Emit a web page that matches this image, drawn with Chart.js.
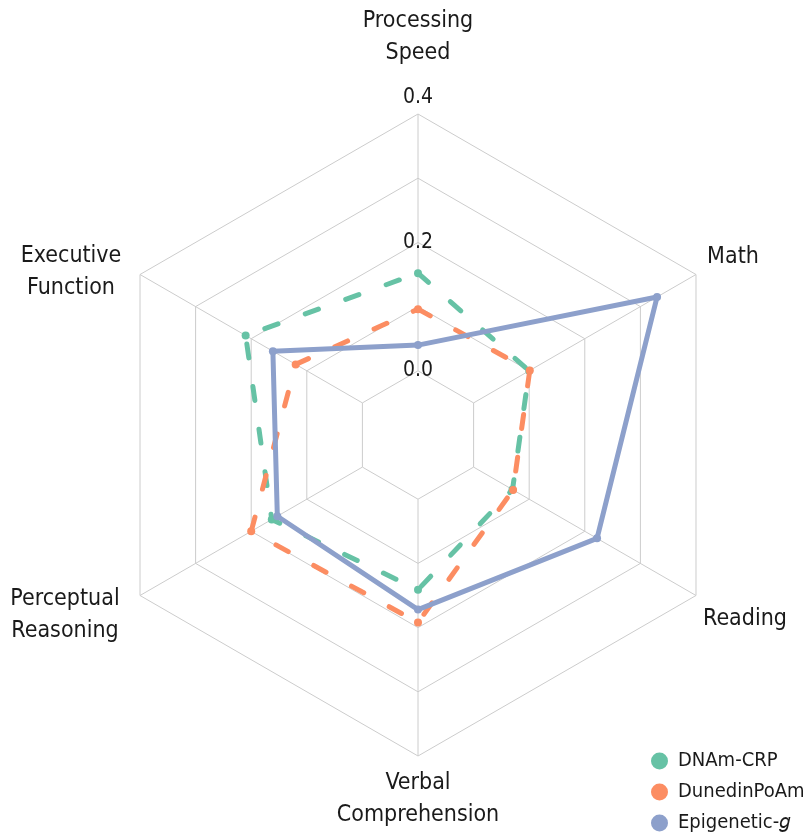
<!DOCTYPE html>
<html>
<head>
<meta charset="utf-8">
<script src="https://cdn.jsdelivr.net/npm/chart.js@4.4.1/dist/chart.umd.min.js"></script>
<style>
  html, body { margin: 0; padding: 0; background: #fff; }
  #wrap { width: 808px; height: 835px; }
</style>
</head>
<body>
<div id="wrap"><canvas id="radarChart" width="808" height="835"></canvas></div>
<script>
// axes, clockwise from the top
const axisLabels = [['Processing', 'Speed'], ['Math'], ['Reading'], ['Verbal', 'Comprehension'], ['Perceptual', 'Reasoning'], ['Executive', 'Function']];
const seriesNames = ['DNAm-CRP', 'DunedinPoAm', 'Epigenetic-𝑔'];
const dnamCrp = [0.152, 0.100, 0.070, 0.141, 0.163, 0.210];
const dunedinPoAm = [0.096, 0.101, 0.071, 0.192, 0.200, 0.120];
const epigeneticG = [0.040, 0.330, 0.222, 0.172, 0.153, 0.161];
const tickLabels = ['0.0', '0.2', '0.4'];

const FONT = "'DejaVu Sans Condensed', 'DejaVu Sans', sans-serif";
const TEXT = '#1a1a1a';
const colors = ['#66c2a5', '#fc8d62', '#8da0cb'];

// label centre, relative to the outer vertex of its axis
const labelShift = [[0, -77], [37, -17.5], [49, 24], [0, 43], [-75, 20], [-69, -2]];

const fmt = v => (Math.abs(v) < 1e-9 ? 0 : v).toFixed(1);

const axisText = {
  id: 'axisText',
  afterDraw(chart) {
    const s = chart.scales.r;
    const ctx = chart.ctx;
    ctx.save();
    ctx.fillStyle = TEXT;
    ctx.textAlign = 'center';
    ctx.textBaseline = 'middle';
    ctx.font = '23px ' + FONT;
    chart.data.labels.forEach((lines, i) => {
      const p = s.getPointPosition(i, s.drawingArea);
      const cx = p.x + labelShift[i][0];
      const cy = p.y + labelShift[i][1] - (lines.length - 1) * 16;
      lines.forEach((t, k) => ctx.fillText(t, cx, cy + k * 32));
    });
    // top tick label sits just above the outer vertex
    const top = tickLabels[tickLabels.length - 1];
    const q = s.getPointPositionForValue(0, s.max);
    ctx.font = '21px ' + FONT;
    ctx.fillText(top, q.x, q.y - 16);
    ctx.restore();
  }
};

const legendPlacer = {
  id: 'legendPlacer',
  afterLayout(chart) {
    const lg = chart.legend;
    lg.left = 640; lg.right = 808;
    lg.top = 740; lg.bottom = 900;
    lg.width = lg.right - lg.left;
    lg.height = lg.bottom - lg.top;
  }
};

function makeSet(name, values, color, dashed, order) {
  return {
    label: name,
    data: values,
    order: order,
    fill: false,
    borderColor: color,
    backgroundColor: color,
    borderWidth: 5,
    borderDash: dashed ? [14, 29] : [],
    borderCapStyle: dashed ? 'round' : 'butt',
    borderJoinStyle: 'round',
    pointRadius: 4,
    pointBackgroundColor: color,
    pointBorderWidth: 0,
    pointHoverRadius: 4
  };
}

new Chart(document.getElementById('radarChart'), {
  type: 'radar',
  data: {
    labels: axisLabels,
    datasets: [
      makeSet(seriesNames[0], dnamCrp, colors[0], true, 3),
      makeSet(seriesNames[1], dunedinPoAm, colors[1], true, 2),
      makeSet(seriesNames[2], epigeneticG, colors[2], false, 1)
    ]
  },
  options: {
    responsive: false,
    devicePixelRatio: 1,
    animation: false,
    layout: { padding: { left: 85, right: 56, top: 102, bottom: 66 } },
    plugins: {
      tooltip: { enabled: false },
      legend: {
        position: 'chartArea',
        align: 'start',
        labels: {
          sort: (a, b) => a.datasetIndex - b.datasetIndex,
          usePointStyle: true,
          pointStyle: 'circle',
          boxHeight: 12,
          pointStyleWidth: 17,
          padding: 11,
          color: TEXT,
          font: { family: FONT, size: 20 }
        }
      }
    },
    scales: {
      r: {
        min: -0.1,
        max: 0.4,
        ticks: {
          stepSize: 0.1,
          showLabelBackdrop: false,
          color: TEXT,
          font: { family: FONT, size: 21 },
          callback: v => {
            const t = fmt(v);
            return tickLabels.slice(0, -1).includes(t) ? t : '';
          }
        },
        grid: { color: '#cccccc', lineWidth: 1 },
        angleLines: {
          color: '#cccccc',
          lineWidth: 1,
          borderDash: ctx => [1000, ctx.chart.scales.r.getDistanceFromCenterForValue(0)],
          borderDashOffset: 1000
        },
        pointLabels: { display: false }
      }
    }
  },
  plugins: [axisText, legendPlacer]
});
</script>
</body>
</html>
